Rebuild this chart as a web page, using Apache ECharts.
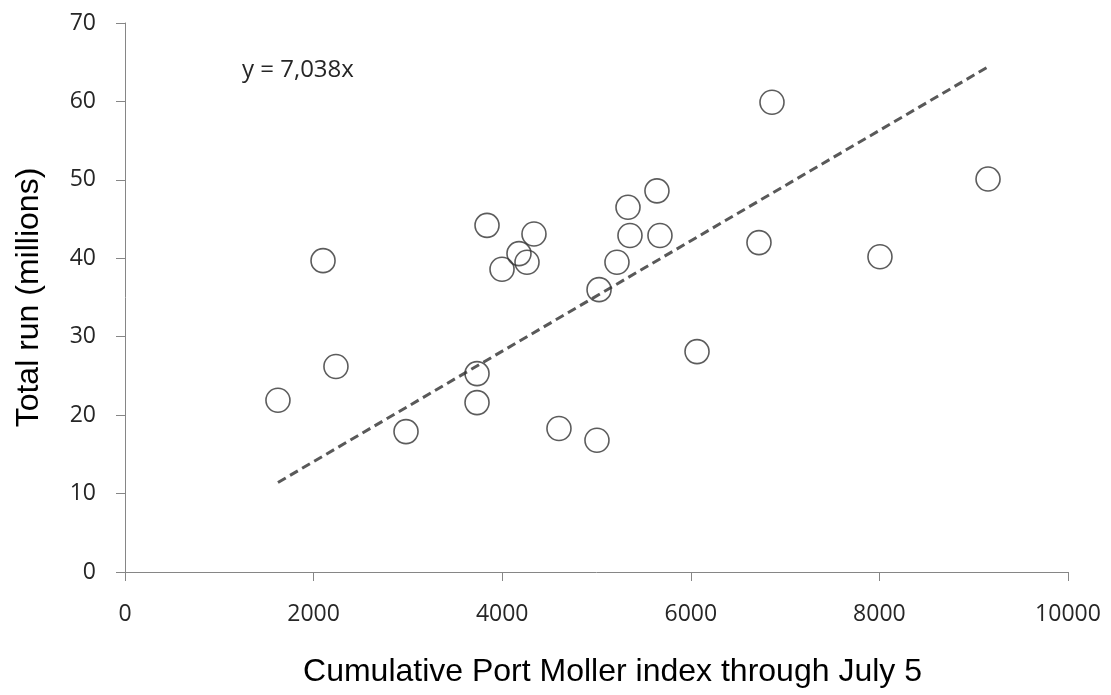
<!DOCTYPE html>
<html>
<head>
<meta charset="utf-8">
<script src="https://cdn.jsdelivr.net/npm/echarts@6/dist/echarts.min.js"></script>
<style>html,body{margin:0;padding:0;background:#fff}#c{width:1111px;height:695px}</style>
</head>
<body>
<div id="c"></div>
<script>
const indexValues = [1622, 2100, 2237, 2980, 3733, 3733, 3839, 3998, 4178, 4263, 4337, 4602, 5005, 5027, 5217, 5334, 5355, 5641, 5673, 6066, 6723, 6861, 8006, 9152];
const totalRun   = [21.9, 39.7, 26.2, 17.9, 25.3, 21.6, 44.2, 38.6, 40.6, 39.5, 43.1, 18.3, 16.8, 36.0, 39.5, 46.5, 42.9, 48.6, 42.9, 28.1, 42.0, 59.9, 40.2, 50.1];
const trendSlope = 0.007038;
const trendLabel = 'y = 7,038x';
const xTicks = [0, 2000, 4000, 6000, 8000, 10000];
const yTicks = [0, 10, 20, 30, 40, 50, 60, 70];

const points = indexValues.map((x, i) => [x, totalRun[i]]);
const xMin = Math.min(...indexValues), xMax = Math.max(...indexValues);
const trend = [[xMin, trendSlope * xMin], [xMax, trendSlope * xMax]];

const chart = echarts.init(document.getElementById('c'), null, {renderer: 'canvas'});
const tickFont = {fontFamily: 'Open Sans', fontSize: 23, color: '#262626'};
chart.setOption({
  animation: false,
  backgroundColor: '#fff',
  grid: {left: 125, right: 43, top: 23, bottom: 123},
  xAxis: {
    type: 'value', min: xTicks[0], max: xTicks[xTicks.length - 1], interval: xTicks[1] - xTicks[0],
    axisLine: {show: true, lineStyle: {color: '#868686', width: 1}},
    axisTick: {show: true, length: 9, lineStyle: {color: '#868686'}},
    splitLine: {show: false},
    axisLabel: Object.assign({margin: 31, formatter: v => String(v)}, tickFont),
    name: 'Cumulative Port Moller index through July 5',
    nameLocation: 'middle', nameGap: 84,
    nameTextStyle: {fontFamily: 'Liberation Sans', fontSize: 32, color: '#000', padding: [0, 0, 0, 32]}
  },
  yAxis: {
    type: 'value', min: yTicks[0], max: yTicks[yTicks.length - 1], interval: yTicks[1] - yTicks[0],
    axisLine: {show: true, lineStyle: {color: '#868686', width: 1}},
    axisTick: {show: true, length: 9, lineStyle: {color: '#868686'}},
    splitLine: {show: false},
    axisLabel: Object.assign({margin: 29}, tickFont),
    name: 'Total run (millions)',
    nameLocation: 'middle', nameGap: 80,
    nameTextStyle: {fontFamily: 'Liberation Sans', fontSize: 32, color: '#000'}
  },
  series: [
    {
      type: 'line', data: trend, symbol: 'none', z: 1,
      lineStyle: {color: '#595959', width: 3, type: [9, 5]}
    },
    {
      type: 'scatter', data: points, symbol: 'circle', symbolSize: 24, z: 2,
      itemStyle: {color: 'rgba(255,255,255,0)', borderColor: '#333', borderWidth: 1.6}
    }
  ],
  graphic: [{
    type: 'text', left: 242, top: 58,
    style: {text: trendLabel, fontFamily: 'Open Sans', fontSize: 24, fill: '#262626'}
  }]
});
</script>
</body>
</html>
